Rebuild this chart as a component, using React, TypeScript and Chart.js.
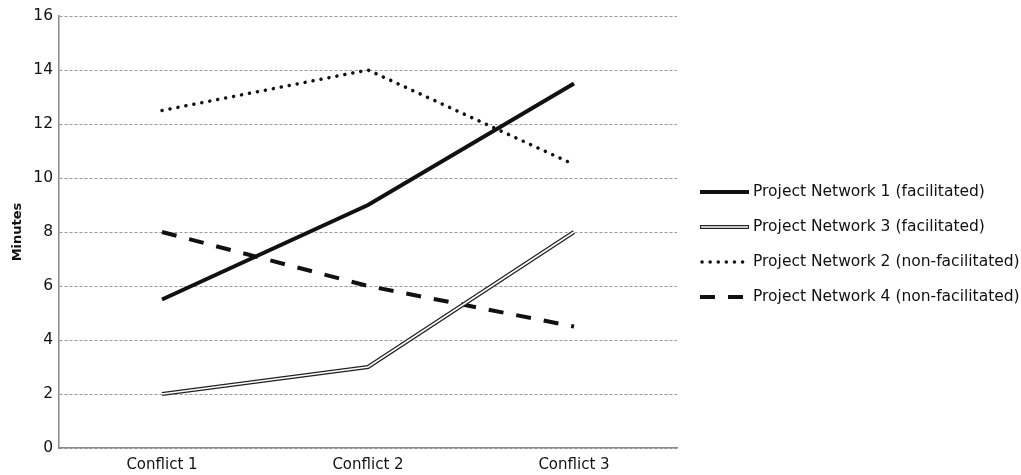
import React, { useEffect, useRef } from "react";
import { Chart, registerables } from "chart.js";

Chart.register(...registerables);

const categories = ["Conflict 1", "Conflict 2", "Conflict 3"];
const pn1 = [5.5, 9, 13.5];
const pn3 = [2, 3, 8];
const pn2 = [12.5, 14, 10.5];
const pn4 = [8, 6, 4.5];
const yTicks = [0, 2, 4, 6, 8, 10, 12, 14, 16];
const legendLabels = [
  "Project Network 1 (facilitated)",
  "Project Network 3 (facilitated)",
  "Project Network 2 (non-facilitated)",
  "Project Network 4 (non-facilitated)",
];

const FONT = "'DejaVu Sans', Verdana, sans-serif";

const legendPlugin = {
  id: "customLegend",
  afterDraw(chart: any) {
    const ctx = chart.ctx;
    const x0 = 700;
    const x1 = 749;
    const ys = [192, 227, 262, 297];
    ctx.save();
    // row 1: solid
    ctx.lineCap = "butt";
    ctx.strokeStyle = "#111";
    ctx.lineWidth = 4;
    ctx.beginPath();
    ctx.moveTo(x0, ys[0]);
    ctx.lineTo(x1, ys[0]);
    ctx.stroke();
    // row 2: double
    ctx.strokeStyle = "#222";
    ctx.lineWidth = 4.2;
    ctx.beginPath();
    ctx.moveTo(x0, ys[1]);
    ctx.lineTo(x1, ys[1]);
    ctx.stroke();
    ctx.strokeStyle = "#fff";
    ctx.lineWidth = 1.6;
    ctx.beginPath();
    ctx.moveTo(x0 + 1, ys[1]);
    ctx.lineTo(x1 - 1, ys[1]);
    ctx.stroke();
    // row 3: dotted
    ctx.strokeStyle = "#111";
    ctx.lineWidth = 3.5;
    ctx.lineCap = "round";
    ctx.setLineDash([0.1, 8]);
    ctx.beginPath();
    ctx.moveTo(x0 + 2, ys[2]);
    ctx.lineTo(x1, ys[2]);
    ctx.stroke();
    // row 4: dashed
    ctx.lineCap = "butt";
    ctx.lineWidth = 4;
    ctx.setLineDash([15, 13]);
    ctx.beginPath();
    ctx.moveTo(x0, ys[3]);
    ctx.lineTo(x1, ys[3]);
    ctx.stroke();
    ctx.setLineDash([]);
    // texts
    ctx.fillStyle = "#111";
    ctx.font = `15.5px ${FONT}`;
    ctx.textBaseline = "middle";
    ctx.textAlign = "left";
    legendLabels.forEach((t, i) => ctx.fillText(t, 753, ys[i]));
    ctx.restore();
  },
};

export default function App() {
  const ref = useRef<HTMLCanvasElement>(null);
  useEffect(() => {
    document.body.style.margin = "0";
    const chart = new Chart(ref.current!, {
      type: "line",
      data: {
        labels: categories,
        datasets: [
          {
            label: "pn3-inner",
            data: pn3,
            borderColor: "#fff",
            borderWidth: 1.6,
            pointRadius: 0,
            tension: 0,
            order: 0,
          },
          {
            label: legendLabels[1],
            data: pn3,
            borderColor: "#222",
            borderWidth: 4.2,
            pointRadius: 0,
            tension: 0,
            order: 1,
          },
          {
            label: legendLabels[0],
            data: pn1,
            borderColor: "#111",
            borderWidth: 4,
            pointRadius: 0,
            tension: 0,
            order: 2,
          },
          {
            label: legendLabels[2],
            data: pn2,
            borderColor: "#111",
            borderWidth: 3.5,
            borderDash: [0.1, 8],
            borderCapStyle: "round",
            pointRadius: 0,
            tension: 0,
            order: 3,
          },
          {
            label: legendLabels[3],
            data: pn4,
            borderColor: "#111",
            borderWidth: 4,
            borderDash: [15, 13],
            pointRadius: 0,
            tension: 0,
            order: 4,
          },
        ],
      },
      options: {
        animation: false,
        responsive: false,
        layout: { padding: { left: 0, top: 16, right: 344, bottom: 0 } },
        plugins: {
          legend: { display: false },
          tooltip: { enabled: false },
        },
        scales: {
          x: {
            offset: true,
            grid: { display: false, drawTicks: false },
            border: { display: true, color: "#888", width: 1.5 },
            ticks: {
              color: "#111",
              padding: 8,
              font: { family: FONT, size: 15 },
            },
            afterFit: (s: any) => {
              s.height = 27;
            },
          },
          y: {
            min: 0,
            max: 16,
            afterBuildTicks: (s: any) => {
              s.ticks = yTicks.map((v) => ({ value: v }));
            },
            grid: { color: "#999", lineWidth: 1, drawTicks: false },
            border: { display: true, color: "#888", width: 1.5, dash: [3, 2] },
            ticks: {
              color: "#111",
              padding: 6,
              font: { family: FONT, size: 15.5 },
            },
            title: {
              display: true,
              text: "Minutes",
              color: "#111",
              font: { family: FONT, size: 13, weight: "bold" },
              padding: { top: 10, bottom: 0 },
            },
            afterFit: (s: any) => {
              s.width = 59;
            },
          },
        },
      },
      plugins: [legendPlugin],
    });
    return () => chart.destroy();
  }, []);
  return (
    <div style={{ width: 1021, height: 475, background: "#fff" }}>
      <canvas ref={ref} width={1021} height={475} />
    </div>
  );
}
